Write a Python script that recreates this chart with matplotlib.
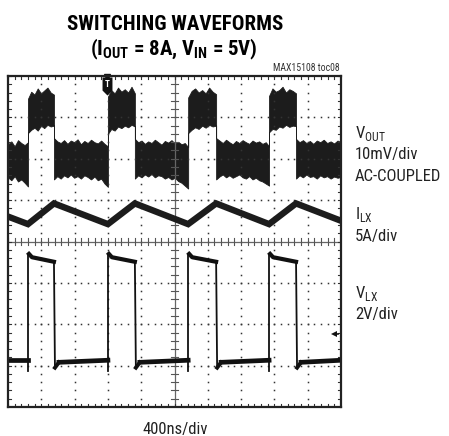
import numpy as np
import matplotlib
matplotlib.use('Agg')
from matplotlib import pyplot as plt

plt.rcParams['font.family'] = ['Roboto Condensed', 'DejaVu Sans']
plt.rcParams['mathtext.fontset'] = 'custom'
plt.rcParams['mathtext.rm'] = 'Roboto Condensed'
plt.rcParams['mathtext.bf'] = 'Roboto Condensed:bold'

# scope screen in divisions: 10 horizontal (400ns/div), 8 vertical
rise_t = [0.60, 3.00, 5.41, 7.84]
fall_t = [1.38, 3.81, 6.25, 8.65]

# VOUT (10mV/div, AC-coupled): noisy band, envelope read per segment
seg_edges = [0.0, 0.60, 1.38, 3.00, 3.81, 5.41, 6.25, 7.84, 8.65, 10.0]
vout_top = [
    [6.35, 6.42, 6.30, 6.45, 6.38, 6.33, 6.40],
    [7.45, 7.62, 7.55, 7.70, 7.58, 7.65, 7.72, 7.60, 7.55],
    [6.50, 6.42, 6.38, 6.45, 6.36, 6.44, 6.40, 6.47, 6.35, 6.43, 6.38, 6.46, 6.40, 6.37, 6.44, 6.36, 6.30],
    [7.50, 7.66, 7.58, 7.72, 7.62, 7.68, 7.60, 7.74, 7.58],
    [6.48, 6.40, 6.44, 6.36, 6.42, 6.38, 6.46, 6.40, 6.34, 6.43, 6.39, 6.45, 6.37, 6.41, 6.35, 6.38, 6.28],
    [7.48, 7.64, 7.70, 7.60, 7.66, 7.58, 7.72, 7.62, 7.56],
    [6.50, 6.44, 6.38, 6.46, 6.40, 6.35, 6.43, 6.38, 6.45, 6.40, 6.36, 6.44, 6.39, 6.42, 6.36, 6.40, 6.30],
    [7.52, 7.70, 7.62, 7.66, 7.74, 7.60, 7.68, 7.64, 7.58],
    [6.48, 6.40, 6.45, 6.38, 6.43, 6.36, 6.44, 6.40, 6.46, 6.38, 6.42, 6.37, 6.44, 6.40],
]
vout_bot = [
    [5.55, 5.48, 5.58, 5.45, 5.50, 5.42, 5.33],
    [6.62, 6.70, 6.75, 6.68, 6.80, 6.74, 6.82, 6.78, 6.80],
    [5.50, 5.58, 5.52, 5.60, 5.55, 5.62, 5.54, 5.58, 5.52, 5.60, 5.56, 5.50, 5.57, 5.48, 5.52, 5.40, 5.32],
    [6.60, 6.72, 6.68, 6.78, 6.74, 6.80, 6.76, 6.82, 6.78],
    [5.52, 5.60, 5.55, 5.62, 5.57, 5.63, 5.55, 5.60, 5.58, 5.52, 5.56, 5.50, 5.54, 5.46, 5.42, 5.35, 5.28],
    [6.62, 6.70, 6.76, 6.72, 6.80, 6.75, 6.82, 6.78, 6.80],
    [5.50, 5.57, 5.62, 5.55, 5.60, 5.54, 5.58, 5.62, 5.55, 5.52, 5.58, 5.50, 5.54, 5.48, 5.45, 5.40, 5.35],
    [6.64, 6.72, 6.70, 6.78, 6.75, 6.82, 6.77, 6.80, 6.79],
    [5.52, 5.60, 5.55, 5.62, 5.56, 5.58, 5.52, 5.60, 5.55, 5.58, 5.52, 5.57, 5.54, 5.56],
]

# ILX (5A/div): triangle, valleys at switch-on, peaks at switch-off
il_t = [-1.04, 0.60, 1.38, 3.00, 3.81, 5.41, 6.25, 7.84, 8.65, 10.26]
il_v = [4.92, 4.42, 4.92, 4.42, 4.92, 4.42, 4.92, 4.42, 4.92, 4.42]

# VLX (2V/div) levels in divisions
vlx_low_start = 1.08
vlx_low_end = 1.13
vlx_high_start = 3.66
vlx_high_end = 3.51
vlx_dip = 0.86
vlx_under = 0.95

fig = plt.figure(figsize=(4.49, 4.36), dpi=100)
ax = fig.add_axes([8 / 449, 1 - 407 / 436, 333 / 449, 331 / 436])
ax.set_xlim(0, 10)
ax.set_ylim(0, 8)
ax.set_xticks([])
ax.set_yticks([])
for s in ax.spines.values():
    s.set_linewidth(1.6)
    s.set_color('#222222')

# graticule
fine = np.arange(0, 10.01, 0.2)
fine_y = np.arange(0, 8.01, 0.2)
for gy in [1, 2, 3, 5, 6, 7]:
    ax.plot(fine, np.full_like(fine, gy), ls='none', marker='s', ms=1.1, color='#333333', mew=0)
for gx in [1, 2, 3, 4, 6, 7, 8, 9]:
    ax.plot(np.full_like(fine_y, gx), fine_y, ls='none', marker='s', ms=1.1, color='#333333', mew=0)
ax.axhline(4, color='#666666', lw=0.9)
ax.axvline(5, color='#666666', lw=0.9)
for fx in fine:
    ax.plot([fx, fx], [3.92, 4.08], color='#555555', lw=0.8)
    ax.plot([fx, fx], [0, 0.08], color='#333333', lw=0.8)
    ax.plot([fx, fx], [7.92, 8], color='#333333', lw=0.8)
for fy in fine_y:
    ax.plot([4.9, 5.1], [fy, fy], color='#555555', lw=0.8)
    ax.plot([0, 0.1], [fy, fy], color='#333333', lw=0.8)
    ax.plot([9.9, 10], [fy, fy], color='#333333', lw=0.8)

# VOUT band
xs, tops, bots = [], [], []
for i in range(len(vout_top)):
    seg_x = np.linspace(seg_edges[i], seg_edges[i + 1], len(vout_top[i]))
    xs.extend(seg_x)
    tops.extend(vout_top[i])
    bots.extend(vout_bot[i])
ax.fill_between(xs, bots, tops, color='#1c1c1c', lw=0.6, edgecolor='#1c1c1c')

# ILX
ax.plot(il_t, il_v, color='#1c1c1c', lw=4.6, solid_joinstyle='miter')

# VLX
prev = 0.0
for r, f in zip(rise_t, fall_t):
    ax.plot([prev, r], [vlx_low_start if prev > 0 else vlx_low_end, vlx_low_end], color='#111111', lw=3.4)
    ax.plot([r, r], [vlx_dip, vlx_high_start + 0.04], color='#111111', lw=1.3)
    ax.plot([r + 0.03, r + 0.12, f], [vlx_high_start + 0.04, vlx_high_start - 0.04, vlx_high_end],
            color='#111111', lw=3.0)
    ax.plot([f, f + 0.03], [vlx_high_end, vlx_under], color='#111111', lw=1.3)
    ax.plot([f + 0.03, f + 0.15], [vlx_under, vlx_low_start], color='#111111', lw=2.8)
    prev = f + 0.15
ax.plot([prev, 10], [vlx_low_start, vlx_low_end], color='#111111', lw=3.4)

# trigger marker and ground reference
trig_x = 2.97
ax.plot([trig_x], [7.97], marker='v', ms=4, color='#111111', clip_on=False)
badge = [(-0.55, 1), (0.55, 1), (0.55, -0.45), (0, -1), (-0.55, -0.45), (-0.55, 1)]
ax.plot([trig_x], [7.76], marker=badge, ms=13, color='#111111', mew=0)
ax.text(trig_x, 7.80, 'T', color='white', fontsize=6.5, fontweight='bold', ha='center', va='center')
ax.plot([9.78, 9.92], [1.77, 1.77], color='#111111', lw=1.2)
ax.plot([9.8], [1.77], marker='<', ms=5, color='#111111', mew=0)


def fpos(x, y):
    return x / 449, 1 - y / 436


fig.text(*fpos(175, 30), 'SWITCHING WAVEFORMS', fontsize=15, fontweight='bold', ha='center', va='baseline')
fig.text(*fpos(174, 55), r'(I$_{\mathbf{OUT}}$ = 8A, V$_{\mathbf{IN}}$ = 5V)', fontsize=15,
         fontweight='bold', ha='center', va='baseline')
fig.text(*fpos(340, 71), 'MAX15108 toc08', fontsize=7, ha='right', va='baseline', color='#333333')

lab = dict(fontsize=12, ha='left', va='baseline', color='#222222')
fig.text(*fpos(355, 138), r'V$_{\mathrm{OUT}}$', **lab)
fig.text(*fpos(355, 159), '10mV/div', **lab)
fig.text(*fpos(355, 181), 'AC-COUPLED', **lab)
fig.text(*fpos(355, 219), r'I$_{\mathrm{LX}}$', **lab)
fig.text(*fpos(355, 241), '5A/div', **lab)
fig.text(*fpos(355, 298), r'V$_{\mathrm{LX}}$', **lab)
fig.text(*fpos(355, 319), '2V/div', **lab)
fig.text(*fpos(175, 434), '400ns/div', fontsize=12, ha='center', va='baseline', color='#222222')

fig.savefig('out.png', dpi=100)
